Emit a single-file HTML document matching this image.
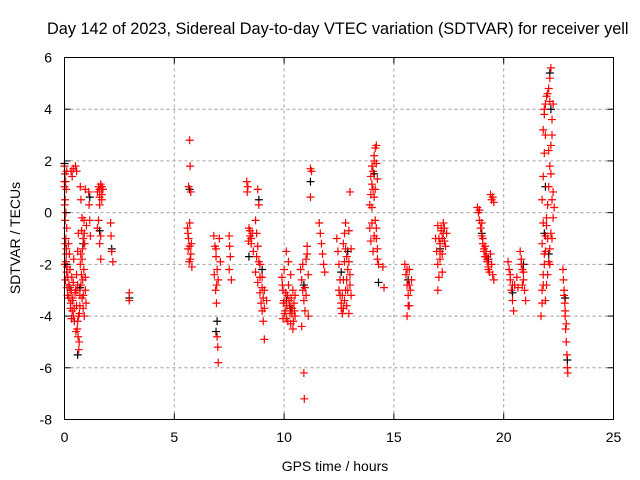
<!DOCTYPE html>
<html><head><meta charset="utf-8"><style>
body{margin:0;background:#fff}
svg{display:block;font-family:"Liberation Sans",sans-serif}
</style></head><body>
<svg id="chart" width="640" height="480" viewBox="0 0 640 480">
<rect width="640" height="480" fill="#fff"/>
<text x="47" y="34" font-size="16.3" text-anchor="start">Day 142 of 2023, Sidereal Day-to-day VTEC variation (SDTVAR) for receiver yell</text>
<g id="grid"></g>
<g id="points"></g>
<rect x="64.5" y="57.5" width="549" height="362" fill="none" stroke="#000"/>
<g id="ticks"></g>
<text x="335" y="471" font-size="14" text-anchor="middle">GPS time / hours</text>
<text x="0" y="0" font-size="14" text-anchor="middle" transform="translate(20,238) rotate(-90)">SDTVAR / TECUs</text>
</svg>
<script>
const xTicks=[0,5,10,15,20,25];
const yTicks=[-8,-6,-4,-2,0,2,4,6];
const redT=[0.0,0.02,0.05,0.08,0.03,0.06,0.1,0.04,0.08,0.02,0.1,0.05,0.12,0.07,0.14,0.0,0.1,
0.18,0.22,0.25,0.2,0.3,0.28,0.35,0.33,0.4,0.38,0.45,0.42,0.3,0.4,0.5,0.55,0.35,
0.5,0.55,0.6,0.62,0.65,0.58,0.68,0.7,0.55,0.63,0.6,
0.72,0.75,0.8,0.78,0.85,0.82,0.9,0.88,0.75,0.8,0.85,0.9,0.95,0.72,1.0,0.95,
1.1,1.12,1.15,1.18,
1.5,1.55,1.6,1.65,1.7,1.75,1.6,1.55,1.5,1.6,1.65,1.7,
2.1,2.12,2.15,2.2,2.95,2.95,
5.7,5.72,5.65,5.75,5.6,5.65,5.7,5.75,5.68,5.8,5.62,5.78,
6.8,6.85,6.9,6.95,7.0,6.88,6.92,6.95,6.98,7.0,7.05,7.1,6.82,
7.5,7.52,7.55,7.5,7.6,
8.3,8.35,8.32,8.4,8.45,8.5,8.55,8.6,8.38,
8.8,8.85,8.7,8.75,8.8,8.85,8.7,8.8,8.9,8.95,9.0,9.05,9.1,9.0,9.1,9.2,8.9,
9.9,9.95,10.0,10.05,10.1,10.15,10.2,10.25,10.3,10.35,10.4,10.45,10.5,10.0,10.1,10.2,10.3,10.4,10.5,9.95,
10.75,10.8,10.85,10.9,10.95,10.8,11.0,11.05,11.1,11.0,10.9,10.92,11.1,
11.2,11.25,11.2,
11.6,11.65,11.7,11.75,11.8,11.85,
12.4,12.45,12.5,12.55,12.6,12.65,12.7,12.75,12.8,12.85,12.7,12.75,12.8,12.85,12.9,12.95,13.0,13.05,13.0,12.95,13.05,
13.9,13.95,14.0,14.05,14.1,14.15,14.2,14.25,14.1,14.0,13.9,13.95,14.05,14.15,14.2,14.25,14.3,14.0,14.1,14.2,
14.5,14.55,
15.5,15.55,15.6,15.65,15.7,15.6,15.75,15.8,15.7,
16.9,16.95,17.0,17.05,17.0,17.1,17.15,17.2,17.25,17.3,17.35,17.4,17.1,17.2,17.0,
18.8,18.85,18.9,18.95,19.0,19.05,19.1,19.15,19.2,19.25,19.3,19.35,19.4,19.45,19.5,19.55,19.4,19.45,19.5,19.55,18.9,19.0,
20.2,20.25,20.3,20.35,20.4,20.45,20.5,20.6,20.65,
20.75,20.8,20.85,20.9,20.95,21.0,20.85,
21.7,21.75,21.8,21.85,21.75,21.8,21.75,21.8,21.85,21.8,21.85,21.9,21.95,22.0,22.05,22.1,22.15,22.1,22.05,22.2,22.15,22.2,22.25,22.15,22.1,22.05,22.0,21.95,21.9,22.2,22.3,22.25,21.9,21.95,
22.7,22.72,22.75,22.78,22.8,22.82,22.85,22.88,22.9,22.92];
const redV=[1.8,1.5,1.2,0.9,0.5,0,-0.6,-1.2,-1.6,-2.0,-2.3,-2.6,-2.9,-1.9,-3.2,1.2,1.6,
-1.2,-1.6,-2.2,-2.8,-3.1,-3.5,-3.8,-2.5,-4.0,-3.3,-4.2,-1.8,1.6,1.7,1.8,1.6,1.4,
-3.0,-3.6,-4.2,-4.8,-5.3,-4.5,-3.9,-3.2,-2.4,-0.8,-1.5,
1.0,0.5,-0.2,-0.7,-1.0,-1.4,-0.8,-2.2,-2.8,-3.3,-3.7,-4.0,-3.0,-2.0,-0.5,0.9,
0.8,0.3,-0.3,-0.9,
0.8,1.0,0.9,1.1,0.7,0.9,0.3,-0.3,-0.6,-1.2,-1.8,0.5,
-0.4,-0.9,-1.5,-1.9,-3.1,-3.4,
2.8,1.8,1.0,0.8,-0.6,-1.0,-1.3,-1.6,-1.9,-2.1,-0.8,-1.2,
-0.9,-1.3,-1.7,-2.2,-2.6,-3.0,-3.5,-4.8,-5.2,-5.8,-1.0,-1.9,-2.4,
-0.9,-1.3,-1.7,-2.2,-2.6,
1.2,1.0,0.8,-0.6,-0.9,-1.2,-0.8,-1.5,-1.1,
0.9,0.3,-0.3,-0.8,-1.3,-1.9,-2.3,-2.7,-3.1,-3.5,-3.8,-4.2,-4.9,-2.5,-3.0,-3.4,-2.0,
-2.5,-3.0,-3.4,-3.8,-4.1,-3.2,-2.8,-3.6,-4.3,-3.9,-3.0,-3.5,-4.0,-2.2,-1.5,-1.9,-2.4,-4.5,-3.2,-4.1,
-2.2,-2.6,-3.0,-3.4,-3.8,-4.4,-1.8,-1.3,-2.4,-3.2,-6.2,-7.2,-4.0,
1.7,1.6,0.6,
-0.4,-0.8,-1.2,-1.6,-2.0,-2.3,
-1.0,-1.5,-2.0,-2.6,-3.5,-3.9,-3.7,-3.4,-3.0,-3.6,-1.2,-0.8,-0.4,-1.7,-2.2,-0.7,0.8,-1.4,-2.8,-3.9,-3.2,
0.3,0.7,1.1,1.6,2.0,2.5,1.9,1.3,0.6,0.2,-0.6,-1.1,-1.5,-0.3,-1.0,-1.8,-2.0,-0.4,-0.9,2.6,
-2.1,-2.9,
-2.0,-2.4,-2.8,-3.2,-3.6,-4.0,-3.0,-2.6,-2.2,
-1.0,-1.5,-2.0,-2.5,-3.0,-1.2,-0.7,-1.0,-0.4,-0.6,-1.3,-0.8,-1.8,-2.3,-0.5,
0.2,0.0,-0.3,-0.6,-0.9,-1.2,-1.5,-1.3,-1.7,-1.9,-2.1,-2.3,-1.6,-2.0,-2.4,-2.6,0.7,0.5,0.6,0.4,0.1,-0.4,
-1.9,-2.2,-2.6,-3.0,-3.4,-3.8,-2.8,-2.5,-2.9,
-1.5,-1.8,-2.2,-2.6,-3.0,-3.4,-2.8,
-4.0,-3.5,-2.8,-2.0,-1.2,-0.4,0.5,1.4,2.3,3.2,3.8,4.2,4.5,4.6,4.8,5.2,5.6,4.3,2.4,3.0,1.5,0.5,-0.2,-0.8,-1.4,-1.9,-2.4,-2.8,-3.4,-1.0,0.2,0.8,-1.5,-0.5,
-2.2,-2.6,-3.0,-3.5,-4.0,-4.5,-5.0,-5.5,-6.0,-6.2];
const red2T=[0.0,0.01,0.03,0.06,0.09,0.12,0.15,0.2,0.24,0.27,0.32,0.36,0.4,0.44,0.48,0.52,0.57,0.6,0.64,0.67,0.7,0.74,0.77,0.8,0.83,0.86,0.89,0.92,0.95,0.98,1.6,1.65,1.7,
5.63,5.7,5.73,6.9,6.93,8.45,8.5,8.75,8.9,9.0,9.05,9.1,
9.92,9.97,10.02,10.07,10.12,10.17,10.22,10.27,10.32,10.37,10.42,10.47,10.85,10.95,11.05,
12.5,12.55,12.6,12.65,12.7,12.75,12.8,12.85,12.9,12.95,13.0,
13.95,14.0,14.05,14.1,14.15,14.2,14.25,15.6,15.65,15.7,17.05,17.1,17.15,17.2,17.25,17.3,
19.05,19.1,19.15,19.2,19.25,19.3,20.3,20.4,20.8,20.9,
21.75,21.8,21.85,21.9,21.95,22.0,22.05,22.1,22.15,22.2,22.25,21.85,21.9,22.0,22.1,22.75,22.8,22.85];
const red2V=[1.0,0.3,-0.3,-1.0,-1.4,-2.1,-2.5,-3.3,-2.9,-3.7,-4.1,-3.4,-2.7,-3.7,-3.1,-4.6,-3.0,-2.8,-4.0,-5.0,-3.6,-1.6,-2.4,-1.8,-2.6,-3.2,-0.3,-1.2,-2.5,-3.5,0.6,-0.9,1.0,
-1.4,-0.4,-1.8,-1.4,-2.8,-0.7,-1.0,-1.7,-2.5,-2.9,-3.3,-3.7,
-2.8,-3.5,-3.9,-3.1,-3.6,-4.2,-3.4,-3.9,-3.3,-3.7,-4.2,-3.8,-2.0,-2.9,-1.6,
-3.0,-3.2,-3.7,-3.2,-2.6,-1.9,-1.4,-2.6,-3.0,-1.9,-2.4,
1.4,1.8,0.9,2.2,0.9,-0.6,-1.4,-2.2,-3.6,-2.8,-1.0,-1.5,-0.6,-1.6,-0.8,-1.1,
-1.0,-1.4,-1.7,-1.5,-1.8,-2.2,-2.4,-2.8,-2.0,-2.3,
-3.0,-2.4,-1.6,-0.9,-0.2,0.3,1.0,1.8,2.6,3.6,4.2,4.0,3.0,-1.0,-2.0,-3.2,-3.8,-4.3];
const blackT=[0.0,0.05,0.3,0.6,0.7,0.85,1.15,1.6,2.15,2.95,5.7,6.95,6.9,8.4,8.85,9.0,10.1,10.3,10.9,11.2,12.6,12.9,14.1,14.3,15.65,17.1,19.0,19.3,20.4,20.9,21.85,21.9,22.05,22.15,22.1,22.8,22.9];
const blackV=[1.9,-2.0,-3.0,-5.5,-2.9,-1.2,0.6,-0.7,-1.4,-3.3,0.9,-4.2,-4.6,-1.7,0.5,-2.2,-3.4,-3.7,-2.8,1.2,-2.3,-1.5,1.5,-2.7,-2.6,-1.4,-0.8,-1.8,-3.1,-2.0,-0.8,1.0,-1.6,4.0,5.4,-3.3,-5.7];

const X0=64.5,X1=613.5,Y0=419.5,Y1=57.5;
function sx(t){return X0+(t-0)/(25-0)*(X1-X0);}
function sy(v){return Y0-(v-(-8))/(6-(-8))*(Y0-Y1);}
const NS='http://www.w3.org/2000/svg';
const grid=document.getElementById('grid'),ticks=document.getElementById('ticks'),pts=document.getElementById('points');
function mk(tag,attrs,parent){const e=document.createElementNS(NS,tag);for(const k in attrs)e.setAttribute(k,attrs[k]);parent.appendChild(e);return e;}
xTicks.forEach(t=>{
  const x=sx(t);
  if(t>0&&t<25){const g=mk('line',{x1:x,x2:x,y1:Y0,y2:Y1,stroke:'#a0a0a0','stroke-dasharray':'3,3'},grid);
  
  }
  const a=mk('line',{x1:x,x2:x,y1:Y0,y2:Y0-6,stroke:'#000'},ticks);
  
  
  const b=mk('line',{x1:x,x2:x,y1:Y1,y2:Y1+6,stroke:'#000'},ticks);
  
  
  const l=mk('text',{x:x,y:442,'font-size':'14','text-anchor':'middle'},ticks);l.textContent=t;
  
  
});
yTicks.forEach(v=>{
  const y=sy(v);
  if(v>-8&&v<6){const g=mk('line',{x1:X0,x2:X1,y1:y,y2:y,stroke:'#a0a0a0','stroke-dasharray':'3,3'},grid);
  
  }
  const a=mk('line',{x1:X0,x2:X0+6,y1:y,y2:y,stroke:'#000'},ticks);
  
  
  const b=mk('line',{x1:X1,x2:X1-6,y1:y,y2:y,stroke:'#000'},ticks);
  
  
  const l=mk('text',{x:52,y:y+5,'font-size':'14','text-anchor':'end'},ticks);l.textContent=v;
  
  
});
function plus(t,v,col,name){
  const x=sx(t),y=sy(v);
  const p=mk('path',{d:`M${x-4},${y}H${x+4}M${x},${y-4}V${y+4}`,stroke:col,'stroke-width':'1.2',fill:'none'},pts);
  
  
}
blackT.forEach((t,i)=>plus(t,blackV[i],'#000','black-point'));
redT.forEach((t,i)=>plus(t,redV[i],'#ff0000','red-point'));
red2T.forEach((t,i)=>plus(t,red2V[i],'#ff0000','red-point'));
</script>
</body></html>
